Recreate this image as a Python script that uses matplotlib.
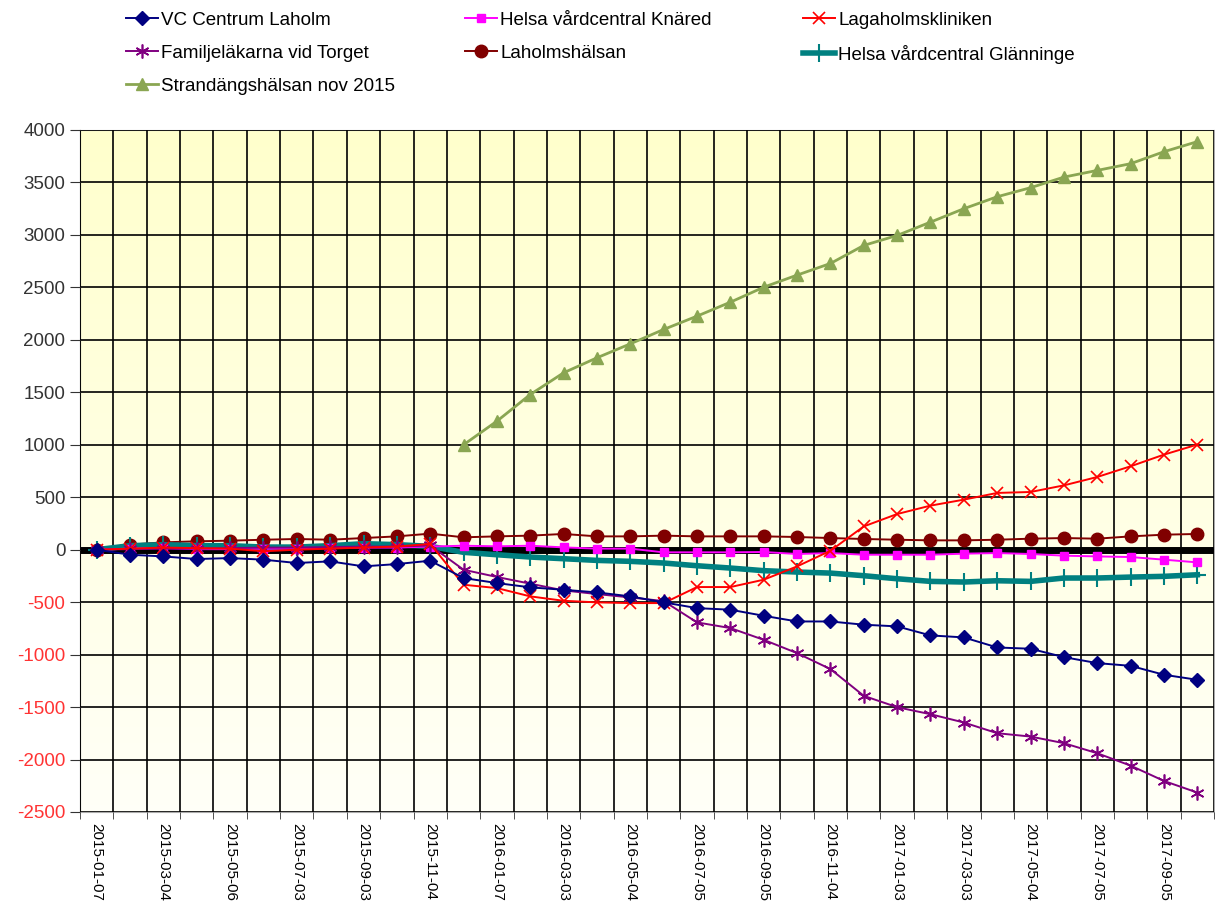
"""
Avvikelse listade patienter per vårdcentral, Laholm 2015-2017.
"""
import matplotlib
matplotlib.use("Agg")
import matplotlib.pyplot as plt
import numpy as np

plt.rcParams["font.family"] = ["Liberation Sans", "DejaVu Sans"]

tick_labels = [
    "2015-01-07", "2015-03-04", "2015-05-06", "2015-07-03", "2015-09-03",
    "2015-11-04", "2016-01-07", "2016-03-03", "2016-05-04", "2016-07-05",
    "2016-09-05", "2016-11-04", "2017-01-03", "2017-03-03", "2017-05-04",
    "2017-07-05", "2017-09-05",
]
n_points = 34

vc_centrum = [0, -48, -64, -89, -80, -95, -127, -111, -159, -137,
              -105, -270, -318, -359, -382, -407, -445, -502, -557, -572,
              -630, -684, -684, -715, -731, -817, -836, -932, -944, -1024,
              -1081, -1107, -1192, -1240]
knared = [0, 10, 15, 5, 5, 10, 10, 15, 20, 20,
          30, 38, 32, 38, 22, 10, 10, -25, -25, -25,
          -22, -41, -32, -48, -48, -48, -38, -32, -41, -57,
          -64, -70, -95, -121]
lagaholm = [0, 10, 20, 15, 10, -15, 0, 10, 20, 30,
            55, -334, -366, -445, -487, -502, -509, -509, -356, -356,
            -286, -159, -10, 222, 340, 420, 477, 541, 550, 613,
            693, 795, 906, 1002]
familje = [0, 5, 10, 10, 15, 20, 20, 25, 30, 30,
           40, -191, -260, -324, -388, -423, -455, -490, -693, -747,
           -859, -986, -1138, -1393, -1501, -1568, -1647, -1749, -1781, -1844,
           -1940, -2058, -2204, -2315]
laholmshalsan = [0, 48, 70, 80, 86, 95, 102, 95, 111, 127,
                 153, 118, 127, 134, 150, 127, 127, 134, 127, 127,
                 127, 121, 111, 102, 95, 89, 89, 95, 105, 111,
                 105, 127, 143, 150]
glanninge = [0, 38, 48, 38, 38, 25, 25, 38, 57, 48,
             32, -25, -48, -70, -86, -102, -111, -127, -153, -175,
             -200, -213, -223, -248, -277, -302, -308, -296, -302, -270,
             -270, -261, -254, -239]
strand_start = 11
strandang = [1000, 1225, 1479, 1686, 1829, 1962, 2099, 2226, 2359, 2502,
             2617, 2728, 2900, 2995, 3122, 3250, 3364, 3450, 3551, 3615,
             3679, 3793, 3889]

fig = plt.figure(figsize=(12.15, 9.02), dpi=100)
ax = fig.add_axes([80 / 1215, 1 - 812 / 902, 1134 / 1215, (812 - 130) / 902])

# gul gradient i bakgrunden
grad = np.linspace(0, 1, 256).reshape(-1, 1)
top = np.array([1.0, 1.0, 0.80])
bottom = np.array([1.0, 1.0, 0.97])
img = top * (1 - grad[..., None]) + bottom * grad[..., None]
ax.imshow(img, extent=(-0.5, n_points - 0.5, -2500, 4000), aspect="auto",
          zorder=0, origin="upper")

x = np.arange(n_points)
ax.axhline(0, color="black", lw=5, zorder=2)

ax.plot(x, laholmshalsan, color="#800000", lw=1.4, marker="o", ms=9,
        zorder=3, label="Laholmshälsan")
ax.plot(x, glanninge, color="#008080", lw=4, marker="+", ms=13, mew=1.5,
        zorder=3, label="Helsa vårdcentral Glänninge")
ax.plot(x, knared, color="#FF00FF", lw=1.4, marker="s", ms=6,
        zorder=4, label="Helsa vårdcentral Knäred")
ax.plot(x, familje, color="#800080", lw=1.4, marker=(6, 2, 0), ms=10, mew=1.2,
        zorder=4, label="Familjeläkarna vid Torget")
ax.plot(x, lagaholm, color="#FF0000", lw=1.4, marker="x", ms=8, mew=1.2,
        zorder=4, label="Lagaholmskliniken")
ax.plot(x, vc_centrum, color="#000080", lw=1.4, marker="D", ms=7,
        zorder=5, label="VC Centrum Laholm")
ax.plot(x[strand_start:strand_start + len(strandang)], strandang,
        color="#8AA652", lw=2, marker="^", ms=9, zorder=5,
        label="Strandängshälsan nov 2015")

ax.set_xlim(-0.5, n_points - 0.5)
ax.set_ylim(-2500, 4000)
ax.set_yticks(np.arange(-2500, 4001, 500))
ax.set_yticklabels([str(v) for v in range(-2500, 4001, 500)], fontsize=13.5)
for lbl, v in zip(ax.get_yticklabels(), range(-2500, 4001, 500)):
    lbl.set_color("#FF3333" if v < 0 else "#333333")

ax.set_xticks(np.arange(0, n_points, 2))
ax.set_xticklabels(tick_labels, rotation=270, fontsize=11, va="top", ha="center")
ax.set_xticks(np.arange(-0.5, n_points, 1), minor=True)
ax.tick_params(axis="x", which="major", length=0, pad=8)
ax.tick_params(axis="x", which="minor", length=5, direction="out", color="#333333")
ax.tick_params(axis="y", length=7, direction="out", color="#333333")

ax.grid(True, axis="y", which="major", color="black", lw=1.2, zorder=1)
ax.grid(True, axis="x", which="minor", color="black", lw=1.2, zorder=1)
ax.set_axisbelow(False)
for s in ["top", "right", "bottom"]:
    ax.spines[s].set_color("#AAAAAA")
ax.spines["left"].set_color("#333333")

# förklaring i tre kolumner
handles = {h.get_label(): h for h in ax.get_lines() if not h.get_label().startswith("_")}
cols = [
    (["VC Centrum Laholm", "Familjeläkarna vid Torget", "Strandängshälsan nov 2015"], 122),
    (["Helsa vårdcentral Knäred", "Laholmshälsan"], 461),
    (["Lagaholmskliniken", "Helsa vårdcentral Glänninge"], 799),
]
for names, xpix in cols:
    fig.legend([handles[n] for n in names], names, loc="upper left",
               bbox_to_anchor=(xpix / 1215, 1 - 8 / 902), frameon=False,
               fontsize=13.5, handlelength=1.7, handletextpad=0.2,
               labelspacing=0.85, borderaxespad=0, borderpad=0.2)

fig.savefig("out.png", dpi=100)
